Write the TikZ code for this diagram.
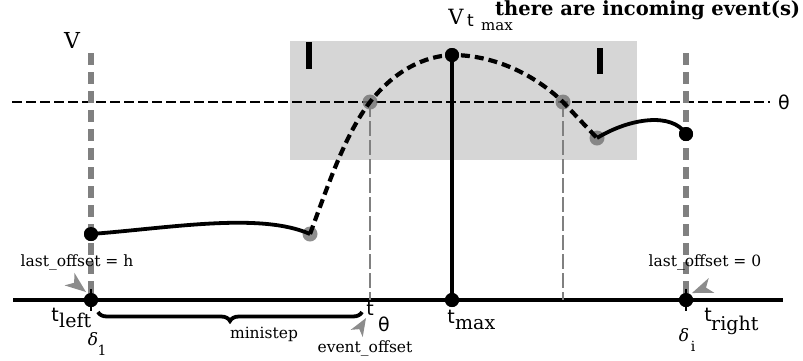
\documentclass[tikz,border=0pt]{standalone}
\usepackage{fontspec}
\setmainfont{DejaVu Serif}
\newfontfamily\sansf{DejaVu Sans}
\usetikzlibrary{arrows.meta,decorations.pathreplacing}
\definecolor{boxgray}{RGB}{214,214,214}
\definecolor{midgray}{RGB}{128,128,128}
\definecolor{ptrgray}{RGB}{140,140,140}
\begin{document}
\begin{tikzpicture}[x=1pt,y=-1pt,
  txt/.style={inner sep=0pt},
  dotb/.style={circle,fill=black,inner sep=0pt,minimum size=14pt},
  dotg/.style={circle,fill=black!55,fill opacity=0.8,inner sep=0pt,minimum size=15pt},
  guide/.style={midgray,line width=5.5pt,dash pattern=on 12pt off 7pt},
  thinguide/.style={midgray,line width=2.5pt,dash pattern=on 15pt off 4pt},
  solidcurve/.style={line width=3.8pt},
  dashcurve/.style={line width=4.2pt,dash pattern=on 9pt off 5pt},
  ptrhead/.style={fill=ptrgray},
  small/.style={txt,font=\fontsize{15.5}{15.5}\selectfont},
  tsym/.style={txt,font=\fontsize{19}{19}\selectfont\sansf},
  sub/.style={txt,font=\fontsize{19}{19}\selectfont}
]
\useasboundingbox (0,0) rectangle (803,360);
% shaded region
\fill[boxgray] (290,41) rectangle (637,160);
\fill[black] (306,42) rectangle (312,69);
\fill[black] (597,48) rectangle (603,74);
% coordinates
\coordinate (axL) at (13,300);
\coordinate (axR) at (783,300);
\coordinate (thL) at (12,102);
\coordinate (thR) at (770,102);
\coordinate (gLtop) at (91,53);
\coordinate (gRtop) at (686,53);
% threshold
\draw[line width=1.8pt,dash pattern=on 10pt off 4pt] (thL) -- (thR);
\node[txt,font=\fontsize{19}{19}\selectfont\sansf] (theta) at (784,102) {θ};
% nodes
\node[dotb] (p0) at (91,234) {};
\node[dotb] (a0) at (91,300) {};
\node[dotb] (amax) at (452,300) {};
\node[dotb] (a1) at (686,300) {};
\coordinate (c1) at (370,300);
\coordinate (c2) at (563,300);
% guides
\draw[guide] (gLtop) -- (a0.center);
\draw[guide] (gRtop) -- (a1.center);
% axis
\draw[line width=3.8pt] (axL) -- (axR);
\draw[line width=2pt] (91,289) -- (91,311);
\draw[line width=2pt] (686,289) -- (686,311);
% curves
\node[dotg] (p1) at (310,234) {};
\node[dotg] (x1) at (370,102) {};
\node[dotg] (x2) at (563,102) {};
\node[dotg] (p3) at (597,138) {};
\node[dotb] (pmax) at (452,55) {};
\node[dotb] (p4) at (686,134) {};
\draw[thinguide] (x1.center) -- (c1);
\draw[thinguide] (x2.center) -- (c2);
\draw[line width=3.8pt] (pmax.center) -- (amax.center);
\draw[solidcurve] (p0.center) .. controls (170,228) and (260,212) .. (p1.center);
\draw[dashcurve] (p1.center) .. controls (330,180) and (345,135) .. (x1.center)
   .. controls (395,70) and (425,56) .. (pmax.center)
   .. controls (495,55) and (535,75) .. (x2.center)
   .. controls (578,118) .. (p3.center);
\draw[solidcurve] (p3.center) .. controls (630,118) and (672,112) .. (p4.center);
% redraw dots on top
\node[dotb] at (p0) {};
\node[dotb] at (pmax) {};
\node[dotb] at (p4) {};
\node[dotb] at (a0) {};
\node[dotb] at (amax) {};
\node[dotb] at (a1) {};
% brace
\coordinate (brL) at (98,312);
\coordinate (brR) at (362,312);
\draw[line width=3.8pt,decorate,decoration={brace,mirror,amplitude=9pt,aspect=0.5}] (brL) -- (brR);
\node[small] (mini) at (264,334) {ministep};
% labels
\node[txt,font=\fontsize{22}{22}\selectfont] (V) at (72,40) {V};
\node[txt,font=\fontsize{21}{21}\selectfont] (Vt) at (456,17) {V};
\node[txt,anchor=west,font=\fontsize{17}{17}\selectfont\sansf] (Vtt) at (467,21) {t};
\node[txt,anchor=west,font=\fontsize{15}{15}\selectfont] (Vtmax) at (481,27) {max};
\node[txt,anchor=west,font=\fontsize{19.5}{19.5}\selectfont\bfseries] (hdr) at (495,10) {there are incoming event(s)};
% t labels
\node[tsym] (tl) at (55,315) {t};
\node[sub,anchor=west] (tlsub) at (59,320) {left};
\node[txt,font=\fontsize{17}{17}\selectfont\itshape] (d1) at (93,339) {δ};
\node[txt,font=\fontsize{14}{14}\selectfont] (d1s) at (102,350) {1};
\node[tsym] (tth) at (370,309) {t};
\node[tsym] (tths) at (384,324) {θ};
\node[tsym] (tm) at (451,317) {t};
\node[sub,anchor=west] (tms) at (455,325) {max};
\node[txt,font=\fontsize{17}{17}\selectfont\itshape] (di) at (684,335) {δ};
\node[txt,font=\fontsize{14}{14}\selectfont] (dis) at (693,346) {i};
\node[tsym] (tr) at (708,315) {t};
\node[sub,anchor=west] (trs) at (711,325) {right};
% small labels and pointers
\node[small] (lo1) at (77,262) {last\_offset = h};
\node[small] (lo2) at (705,262) {last\_offset = 0};
\node[small] (eo) at (365,348) {event\_offset};
\coordinate (lo1b) at (86,292);
\coordinate (lo2b) at (692,293);
\coordinate (eob) at (366,318);
\fill[ptrhead,shift={(lo1b)},rotate=-38] (0,0) -- (-21,-8) -- (-15,0) -- (-21,8) -- cycle;
\fill[ptrhead,shift={(lo2b)},rotate=-159] (0,0) -- (-21,-8) -- (-15,0) -- (-21,8) -- cycle;
\fill[ptrhead,shift={(eob)},rotate=59] (0,0) -- (-18,-7) -- (-13,0) -- (-18,7) -- cycle;
\end{tikzpicture}
\end{document}
